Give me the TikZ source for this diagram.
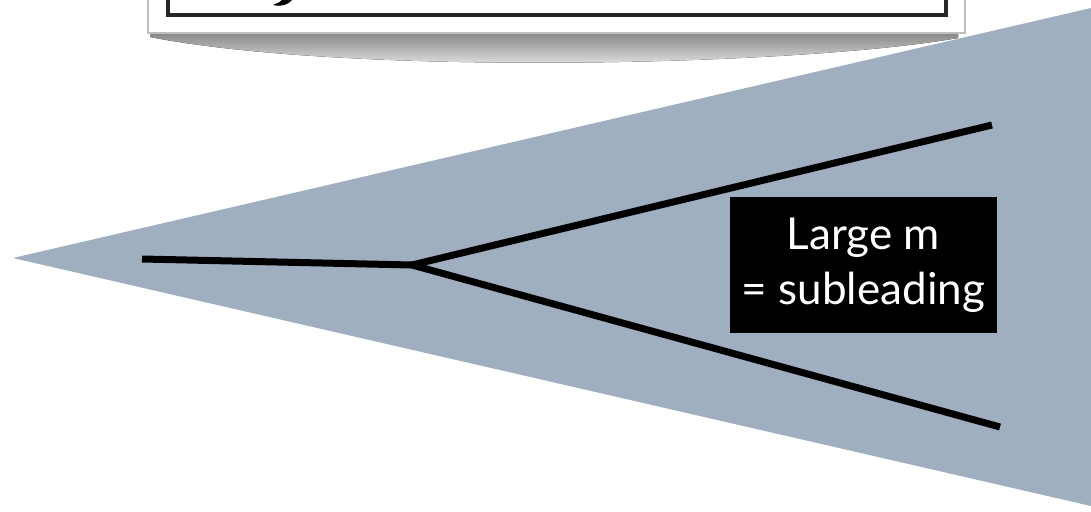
\documentclass[tikz,border=0pt]{standalone}
\usepackage{fontspec}
\newfontfamily\notefont{Lato}
\definecolor{slate}{RGB}{160,175,192}
\definecolor{shade}{RGB}{112,112,112}
\tikzset{
  branch/.style={line width=7pt,line cap=butt,line join=miter},
  notebox/.style={fill=black,text=white,inner sep=0pt,minimum width=267pt,
    minimum height=136pt,align=center,font=\notefont\fontsize{44}{55}\selectfont}
}
\begin{document}
\begin{tikzpicture}[x=1pt,y=-1pt]
	\useasboundingbox (0,0) rectangle (1091,511);
	\fill[shade] (150,30)--(958,30)--(958,38) .. controls (800,66) and (350,76) .. (150,37)--cycle;
	\draw[fill=white,draw=black!25,line width=1.5pt] (148,-20) rectangle (965,33);
	\draw[black!85,line width=4pt] (168,-20)--(168,15)--(946,15)--(946,-20);
	\fill (273,5) .. controls (281,7) and (288,5) .. (292,0)--(282,0) .. controls (280,2) .. (273,5);
	\fill[slate] (13,258)--(1091,8)--(1091,506)--cycle;
	\coordinate (stem) at (142,259);
	\coordinate (split) at (412,265);
	\coordinate (upper) at (992,125);
	\coordinate (lower) at (1000,427);
	\draw[branch] (stem)--(split);
	\draw[branch] (upper)--(split)--(lower);
	\node[notebox] (note) at (863.5,265) {Large m\\= subleading};
\end{tikzpicture}
\end{document}
